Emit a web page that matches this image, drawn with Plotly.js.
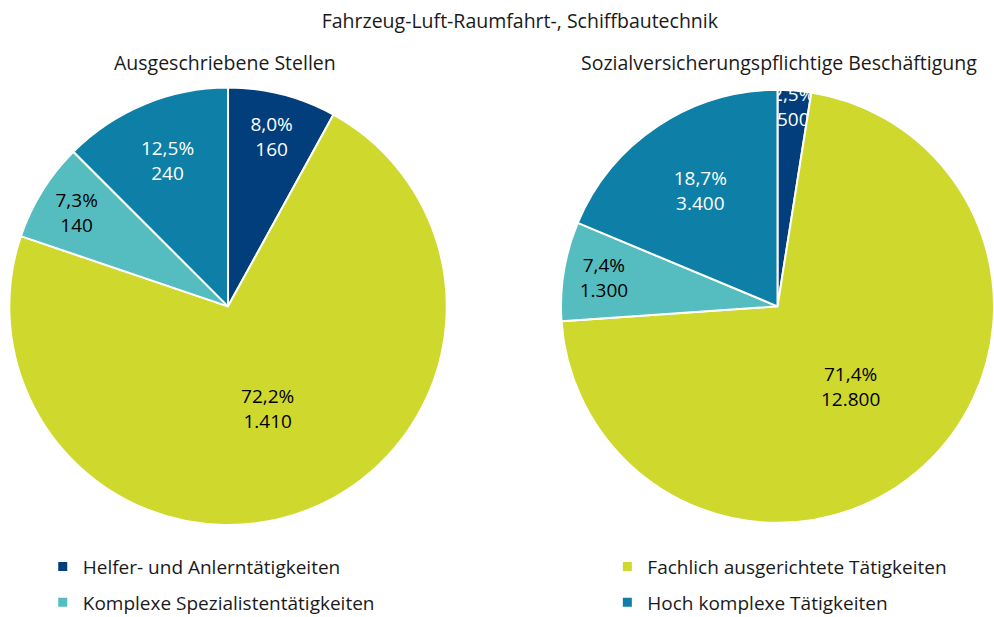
<!DOCTYPE html>
<html>
<head>
<meta charset="utf-8">
<script src="https://cdn.plot.ly/plotly-3.0.1.min.js"></script>
<style>html,body{margin:0;padding:0;background:#fff;}#chart{width:994px;height:617px;}</style>
</head>
<body>
<div id="chart"></div>
<script>
var categories = ["Helfer- und Anlerntätigkeiten", "Fachlich ausgerichtete Tätigkeiten", "Komplexe Spezialistentätigkeiten", "Hoch komplexe Tätigkeiten"];
var colors = ["#023e7b", "#cfd82d", "#55bdc0", "#0e7fa6"];
var textColors = ["#ffffff", "#000000", "#000000", "#ffffff"];
var stellenPct = [8.0, 72.2, 7.3, 12.5];
var stellenAbs = [160, 1410, 140, 240];
var beschPct = [2.5, 71.4, 7.4, 18.7];
var beschAbs = [500, 12800, 1300, 3400];
var mainTitle = "Fahrzeug-Luft-Raumfahrt-, Schiffbautechnik";
var subTitles = ["Ausgeschriebene Stellen", "Sozialversicherungspflichtige Beschäftigung"];

var FONT = "'Open Sans', 'Noto Sans', sans-serif";

function pie(pct, abs, domain) {
  return {
    type: "pie",
    values: pct,
    labels: categories,
    customdata: abs,
    sort: false,
    direction: "clockwise",
    rotation: 0,
    domain: domain,
    marker: {colors: colors, line: {color: "#ffffff", width: 2}},
    texttemplate: "%{value:.1f}%<br>%{customdata:,}",
    textposition: "inside",
    insidetextorientation: "horizontal",
    insidetextfont: {family: FONT, size: 19, color: textColors},
    hoverinfo: "label+value",
    showlegend: false
  };
}

var data = [
  pie(stellenPct, stellenAbs, {x: [0.0091, 0.4497], y: [0.149, 0.858]}),
  pie(beschPct, beschAbs, {x: [0.5644, 1.0], y: [0.149, 0.858]})
];

// legend entries (dummy traces) split into two columns
var legendAssign = ["legend", "legend2", "legend", "legend2"];
categories.forEach(function (c, i) {
  data.push({
    type: "scatter", x: [null], y: [null], mode: "markers",
    name: c, legend: legendAssign[i], legendgroup: "g" + i,
    marker: {symbol: "square", size: 9, color: colors[i]},
    hoverinfo: "skip", showlegend: true
  });
});

var legendBase = {
  orientation: "v", traceorder: "grouped", tracegroupgap: 8,
  font: {family: FONT, size: 19, color: "#1a1a1a"},
  bgcolor: "rgba(0,0,0,0)", itemwidth: 30,
  xanchor: "left", yanchor: "top", y: 0.1125
};

var layout = {
  width: 994, height: 617,
  margin: {l: 0, r: 0, t: 0, b: 0, autoexpand: false},
  paper_bgcolor: "#ffffff", plot_bgcolor: "#ffffff",
  separators: ",.",
  font: {family: FONT, size: 19, color: "#1a1a1a"},
  title: {text: mainTitle, x: 0.523, xanchor: "center", y: 0.966, yanchor: "middle",
          font: {family: FONT, size: 19.5, color: "#1a1a1a"}},
  xaxis: {visible: false}, yaxis: {visible: false},
  uniformtext: {mode: "show", minsize: 19},
  legend: Object.assign({}, legendBase, {x: 0.043}),
  legend2: Object.assign({}, legendBase, {x: 0.611}),
  annotations: [
    {text: subTitles[0], x: 0.226, y: 0.899, xref: "paper", yref: "paper", showarrow: false,
     xanchor: "center", yanchor: "middle", font: {family: FONT, size: 19.5, color: "#1a1a1a"}},
    {text: subTitles[1], x: 0.784, y: 0.899, xref: "paper", yref: "paper", showarrow: false,
     xanchor: "center", yanchor: "middle", font: {family: FONT, size: 19.5, color: "#1a1a1a"}}
  ]
};

Plotly.newPlot("chart", data, layout, {displayModeBar: false, responsive: false});
</script>
</body>
</html>
